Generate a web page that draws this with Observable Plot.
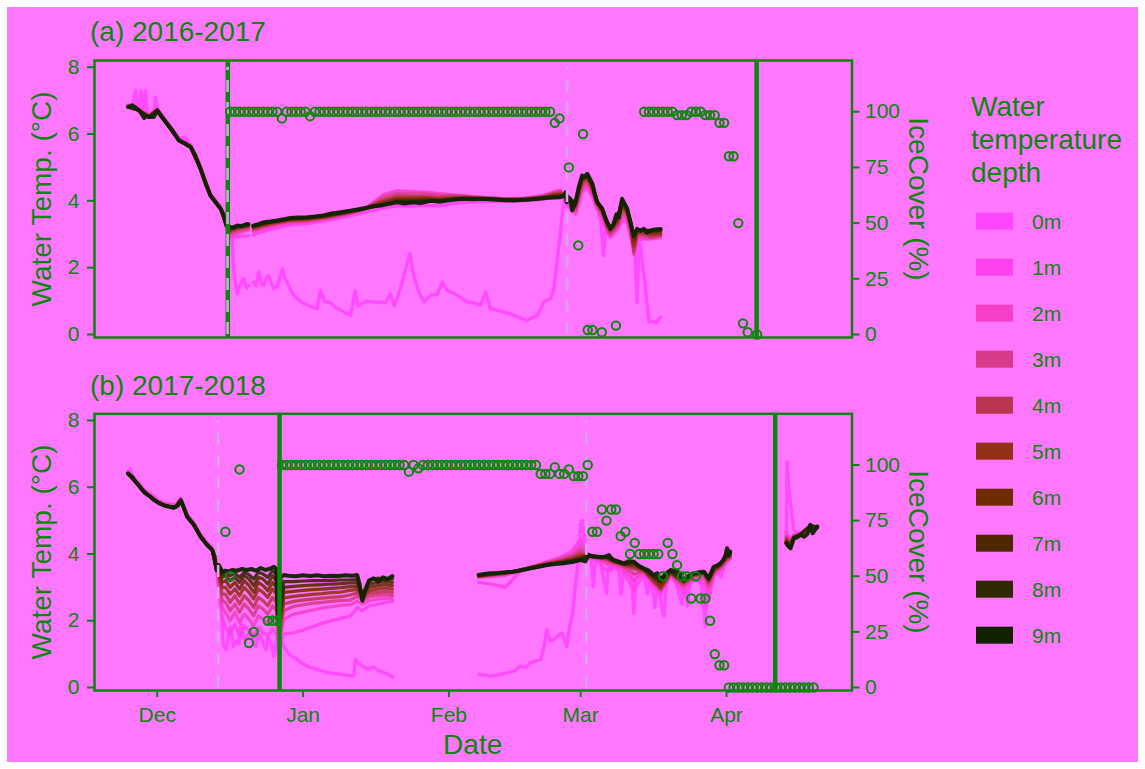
<!DOCTYPE html>
<html><head><meta charset="utf-8">
<script src="https://cdn.jsdelivr.net/npm/d3@7"></script>
<script src="https://cdn.jsdelivr.net/npm/@observablehq/plot@0.6"></script>
<style>
html,body{margin:0;padding:0;background:#ffffff;}
#page{position:absolute;left:0;top:0;width:1145px;height:769px;overflow:hidden;font-family:"Liberation Sans",Arial,sans-serif;}
#bgrect{position:absolute;left:7px;top:7px;width:1131px;height:755px;background:#ff77ff;}
#page svg{position:absolute;}
</style></head><body>
<div id="page"><div id="bgrect"></div></div>
<script>
// ---------------- DATA ----------------
// x values are days after 1 December (season reference); 2016-17 and 2017-18 share one season axis.
const depths = ["0m","1m","2m","3m","4m","5m","6m","7m","8m","9m"];
const depthColors = ["#ff46ff","#ff40ee","#f53fc8","#d83b8a","#b8364f","#933016","#702c00","#502800","#302800","#102200"];
const monthTicks = ["2017-12-01","2018-01-01","2018-02-01","2018-03-01","2018-04-01"];
const tempTicks = [0,2,4,6,8];
const iceTicks = [0,25,50,75,100];
const ICE_PER_DEGREE = 15; // secondary axis: IceCover (%) = 15 x axis units
const xDomainDays = [-13.33, 147.67];
const panelTitles = ["(a) 2016-2017","(b) 2017-2018"];

// ---- Panel (a) 2016-2017 ----
const a9m = [[-6.2,6.81],[-5.3,6.86],[-4.5,6.78],[-3.9,6.71],[-3.4,6.62],[-2.8,6.48],[-2.3,6.55],[-1.8,6.51],[-0.7,6.51],[0,6.71],
[0.7,6.56],[1.8,6.36],[3.2,6.11],[4.6,5.81],[6.0,5.71],[7.1,5.61],[8.1,5.36],[9.2,4.96],[10.3,4.51],[11.3,4.16],
[12.4,3.96],[13.5,3.76],[14.2,3.56],[14.7,3.26],[15.6,3.21],[16.3,3.20],[17.0,3.26],[18.0,3.24],[19.1,3.31],[19.4,3.30],
[19.9,null],[20.4,3.26],[21.5,3.30],[22.7,3.36],[24.0,3.38],[25.5,3.41],[27.0,3.45],[28.3,3.49],[30.0,3.50],[31.9,3.51],
[33.5,3.53],[35.4,3.56],[37.0,3.62],[39.0,3.66],[40.7,3.70],[42.5,3.74],[44.3,3.79],[46.0,3.84],[47.5,3.86],[49.2,3.91],
[51.0,3.96],[52.5,3.92],[54.5,3.96],[56.0,3.93],[58.1,4.00],[60.0,3.97],[61.6,4.01],[63.5,4.04],[65.2,4.06],[67.0,4.05],
[68.7,4.06],[70.5,4.05],[72.3,4.04],[74.0,4.02],[75.8,4.01],[77.5,4.03],[79.3,4.04],[81.0,4.06],[82.9,4.09],[84.5,4.10],
[85.7,4.11],[86.4,4.15],[86.8,4.26],[87.0,3.96],[87.4,4.10],[87.8,4.06],[88.2,3.71],[88.9,3.96],[89.6,4.41],[90.3,4.76],
[90.8,4.70],[91.4,4.81],[92.0,4.65],[92.5,4.51],[93.0,4.20],[93.5,3.96],[94.1,3.85],[94.6,3.76],[95.1,3.55],[95.6,3.36],
[96.3,3.16],[97.0,3.31],[97.6,3.60],[98.1,3.50],[98.8,4.06],[99.4,3.90],[99.9,3.76],[100.5,3.40],[101.0,3.10],[101.3,2.96],
[102.0,3.16],[102.7,3.10],[103.4,3.16],[104.1,3.05],[104.8,3.11],[105.8,3.14],[107.0,3.16]];

const a0m = [[-6.2,6.81],[-5.3,6.86],[-4.6,7.30],[-4.3,6.78],[-3.9,6.71],[-3.4,7.30],[-3.0,6.55],[-2.5,7.30],[-2.1,6.55],[-1.8,6.51],
[-0.7,6.51],[-0.4,7.10],[0,6.75],[0.7,6.56],[1.8,6.40],[3.2,6.15],[4.6,5.85],[6.0,5.90],[7.1,5.65],[8.1,5.40],
[9.2,5.00],[10.3,4.55],[11.3,4.20],[12.4,4.00],[13.5,3.80],[14.2,3.60],[14.7,3.30],[15.3,3.10],[15.9,2.96],[16.3,1.87],
[17.0,1.22],[17.7,1.50],[18.4,1.67],[19.0,1.40],[19.5,1.47],[19.9,null],[20.5,1.57],[21.0,1.45],[21.6,1.87],[22.2,1.50],
[22.7,1.47],[23.2,1.70],[23.7,1.77],[24.3,1.50],[24.8,1.37],[25.6,1.45],[26.6,1.97],[27.1,1.70],[27.6,1.57],[28.3,1.35],
[29.0,1.17],[30.0,1.05],[31.2,0.92],[32.5,0.85],[34.0,0.77],[34.7,1.32],[35.5,1.00],[36.8,0.95],[38.0,0.80],[39.7,0.67],
[41.1,0.57],[42.1,1.32],[42.6,0.85],[43.2,0.90],[44.5,1.00],[46.0,0.97],[47.5,0.97],[48.5,0.95],[49.6,1.22],[50.4,0.85],
[51.7,1.37],[52.8,1.97],[53.7,2.42],[54.5,1.77],[55.6,1.27],[56.7,0.97],[58.1,1.17],[59.5,1.20],[60.6,1.57],[61.6,1.32],
[62.7,1.25],[63.8,1.17],[65.0,1.05],[65.9,0.97],[67.3,0.95],[68.7,0.87],[69.8,1.27],[70.8,0.77],[72.3,0.72],[73.7,0.67],
[75.8,0.57],[77.2,0.50],[78.6,0.42],[79.7,0.50],[80.8,0.57],[82.2,0.97],[83.6,1.07],[84.3,1.37],[85.0,2.17],[85.7,3.06],
[86.2,3.76],[86.8,4.16],[87.4,4.05],[88.2,3.80],[88.9,3.90],[89.6,4.30],[90.3,4.70],[91.4,4.80],[92.5,4.45],[93.5,3.90],
[94.2,3.50],[94.9,2.36],[95.3,3.20],[95.6,3.30],[96.3,3.10],[97.0,3.25],[97.9,3.60],[98.8,3.95],[99.9,3.70],[100.6,3.30],
[101.0,2.76],[101.4,3.10],[102.0,0.97],[102.4,3.00],[103.1,2.17],[103.8,1.37],[104.5,0.37],[105.2,0.40],[106.0,0.35],[107.0,0.52]];

const aMidDays = [-6.2,-3.9,-1.8,0,1.8,4.6,7.1,9.2,11.3,13.5, 14.7,15.6,17.0,19.4,19.9,20.4,24,28,32,36, 40,44,48,51,54,57,60,63,66,70,
74,78,82,84.5,85.7,86.8,87.8,88.9,89.6,90.3, 91.4,92.5,93.5,94.6,95.6,96.3,97.0,97.9,98.8,99.9, 100.6,101.3,102.0,103.4,104.8,107.0];
const a1m = [6.88,6.78,6.58,6.78,6.42,5.88,5.68,5.02,4.22,3.82, 3.20,2.88,2.92,2.96,null,2.98,3.14,3.27,3.32,3.41, 3.52,3.65,3.78,3.85,3.84,3.86,3.85,3.92,3.96,3.98,
3.98,4.00,4.04,4.14,4.22,3.95,3.75,3.60,3.90,4.25, 4.40,4.10,3.75,3.45,3.05,2.90,3.00,3.15,3.40,3.35, 2.90,2.70,2.85,2.85,2.85,2.90];
const a2m = [6.85,6.75,6.55,6.75,6.40,5.85,5.65,5.00,4.20,3.80, 3.26,2.95,3.02,3.12,null,3.08,3.22,3.34,3.38,3.46, 3.57,3.74,4.18,4.30,4.28,4.26,4.22,4.18,4.14,4.10,
4.06,4.08,4.16,4.28,4.32,4.02,3.82,3.65,4.00,4.35, 4.48,4.18,3.80,3.52,3.10,2.95,3.05,3.20,3.50,3.45, 3.00,2.60,2.90,2.90,2.88,2.92];
const a3m = [6.83,6.73,6.53,6.73,6.38,5.83,5.63,4.98,4.18,3.78, 3.26,3.02,3.10,3.18,null,3.13,3.27,3.38,3.41,3.49, 3.60,3.76,4.10,4.22,4.20,4.20,4.16,4.16,4.13,4.09,
4.06,4.07,4.14,4.24,4.28,4.08,3.90,3.72,4.10,4.42, 4.55,4.25,3.86,3.60,3.18,3.00,3.10,3.28,3.62,3.52, 3.10,2.40,2.95,2.95,2.90,2.95];
const a4m = [6.81,6.71,6.51,6.71,6.36,5.81,5.61,4.96,4.16,3.76, 3.26,3.08,3.16,3.22,null,3.17,3.30,3.41,3.44,3.51, 3.62,3.76,4.02,4.14,4.13,4.13,4.10,4.12,4.11,4.08,
4.05,4.06,4.12,4.21,4.24,4.12,3.96,3.80,4.18,4.52, 4.62,4.34,3.92,3.66,3.26,3.06,3.16,3.35,3.75,3.60, 3.20,2.50,3.00,3.00,2.95,2.98];
const a5m = [6.81,6.71,6.51,6.71,6.36,5.81,5.61,4.96,4.16,3.76, 3.26,3.12,3.19,3.25,null,3.20,3.33,3.43,3.46,3.53, 3.64,3.76,3.97,4.08,4.08,4.09,4.06,4.09,4.09,4.07,
4.04,4.05,4.10,4.18,4.20,4.15,4.00,3.86,4.25,4.60, 4.68,4.40,3.96,3.70,3.32,3.12,3.22,3.42,3.85,3.66, 3.28,2.65,3.06,3.06,3.00,3.02];
const a6m = [6.81,6.71,6.51,6.71,6.36,5.81,5.61,4.96,4.16,3.76, 3.26,3.15,3.22,3.27,null,3.22,3.35,3.45,3.48,3.55, 3.65,3.76,3.93,4.04,4.04,4.05,4.03,4.07,4.08,4.06,
4.03,4.04,4.09,4.15,4.17,4.18,4.03,3.90,4.30,4.66, 4.72,4.45,3.98,3.72,3.36,3.16,3.26,3.48,3.92,3.70, 3.34,2.80,3.10,3.10,3.05,3.08];
const a7m = [6.81,6.71,6.51,6.71,6.36,5.81,5.61,4.96,4.16,3.76, 3.26,3.18,3.24,3.28,null,3.24,3.36,3.46,3.49,3.56, 3.66,3.76,3.90,4.00,4.00,4.02,4.01,4.05,4.07,4.05,
4.02,4.03,4.08,4.13,4.14,4.20,4.04,3.92,4.34,4.70, 4.75,4.48,3.98,3.74,3.38,3.18,3.28,3.52,3.98,3.72, 3.38,2.90,3.12,3.12,3.08,3.12];
const a8m = [6.81,6.71,6.51,6.71,6.36,5.81,5.61,4.96,4.16,3.76, 3.26,3.20,3.25,3.29,null,3.25,3.37,3.47,3.50,3.57, 3.67,3.77,3.88,3.98,3.97,3.99,3.99,4.04,4.06,4.05,
4.02,4.03,4.07,4.11,4.12,4.22,4.05,3.94,4.38,4.74, 4.78,4.50,3.98,3.75,3.38,3.18,3.30,3.55,4.02,3.75, 3.40,2.94,3.14,3.14,3.10,3.14];

// daily ice cover (%) at noon, first value on day 15 (16 Dec); null = no observation
const aIceStartDay = 15;
const aIce = [100,100,100,100,100,100,100,100,100,100,100,97,100,100,100,100,100,98,
100,100,100,100,100,100,100,100,100,100,100,100,100,100,100,100,100,100,100,100,100,100,100,100,100,100,100,100,100,100,100,100,100,
100,100,100,100,100,100,100,100,100,100,100,100,100,100,100,100,100,100,
95,97,null,75,null,40,90,2,2,null,1,null,null,4,null,null,null,null,null,
100,100,100,100,100,100,100,98.5,98.5,98.5,100,100,100,98.5,98.5,98.5,95,95,80,80,50,5,1,null,0];
const aGreenRules = [15.0, 127.4];
const aLavenderRules = [14.95, 87.1];

// ---- Panel (b) 2017-2018 ----
const b9m = [[-6.2,6.41],[-5.7,6.35],[-5.3,6.31],[-4.8,6.20],[-4.25,6.11],[-3.5,5.98],[-2.8,5.86],[-2.1,5.78],[-1.4,5.71],[-0.7,5.62],
[0,5.56],[0.7,5.50],[1.4,5.46],[2.1,5.43],[2.8,5.41],[3.4,5.38],[3.9,5.41],[4.4,5.45],[5.0,5.61],[5.5,5.45],
[6.4,5.11],[7.1,5.00],[7.8,4.87],[8.5,4.70],[9.2,4.52],[9.9,4.40],[10.6,4.27],[11.1,4.20],[11.7,4.12],[12.2,3.92],
[12.6,3.52],[13.1,3.67],[13.8,3.47],[14.5,3.50],[15.2,3.48],[16.0,3.52],[17.0,3.50],[18.0,3.55],[19.0,3.52],[20.0,3.55],
[21.0,3.50],[22.0,3.58],[23.0,3.52],[24.0,3.56],[24.8,3.62],[25.3,3.55],[25.6,2.20],[25.9,2.00],[26.2,3.30],[26.9,3.37],
[28.0,3.35],[29.5,3.33],[31.0,3.36],[32.5,3.34],[34.0,3.36],[35.5,3.33],[37.0,3.35],[38.5,3.34],[40.0,3.36],[41.5,3.35],
[42.5,3.37],[43.0,3.10],[43.6,2.60],[44.2,2.90],[45.0,3.20],[46.0,3.27],[47.0,3.18],[48.0,3.30],[49.0,3.25],[50.0,3.34],
[50.2,null],[68.3,3.37],[69.5,3.40],[70.8,3.42],[72.5,3.43],[74.0,3.45],[75.8,3.47],[77.5,3.52],[79.3,3.57],[81.0,3.62],
[82.8,3.67],[84.5,3.70],[86.4,3.72],[88.2,3.76],[90.0,3.82],[91.0,3.78],[91.7,3.97],[92.5,3.93],[93.5,3.92],[94.5,3.90],
[95.2,3.92],[96.0,3.97],[96.5,3.88],[97.0,3.82],[98.0,3.78],[99.2,3.72],[100.2,3.78],[101.3,3.77],[102.3,3.65],[103.4,3.57],
[104.5,3.50],[105.5,3.37],[106.3,3.42],[107.0,3.22],[108.0,3.40],[109.1,3.52],[110.5,3.47],[111.2,3.40],[111.9,3.22],[113.0,3.35],
[114.0,3.42],[115.0,3.45],[116.2,3.47],[117.2,3.27],[118.3,3.62],[119.0,3.65],[119.7,3.72],[120.3,3.80],[120.8,3.97],[121.1,4.17],
[121.5,3.95],[121.8,4.07],[122.0,null],[133.7,4.32],[134.0,4.25],[134.6,4.17],[135.3,4.47],[136.0,4.50],[136.7,4.57],[137.5,4.52],
[138.2,4.60],[138.8,4.87],[139.3,4.62],[139.8,4.72],[140.3,4.82]];

const b0m = [[-6.2,6.45],[-5.7,6.55],[-5.3,6.35],[-4.25,6.15],[-3.5,6.02],[-2.8,5.90],[-2.1,5.82],[-1.4,5.78],[-0.7,5.70],[0,5.62],
[1.4,5.52],[2.8,5.50],[3.4,5.45],[3.9,5.48],[5.0,5.65],[6.4,5.15],[7.8,4.90],[9.2,4.55],[10.6,4.30],[11.7,4.15],
[12.2,3.95],[12.6,3.55],[13.1,3.60],[13.5,2.72],[14.0,1.32],[14.6,1.13],[15.2,1.60],[15.6,1.83],[16.2,1.23],[16.8,1.40],
[17.3,1.30],[17.8,1.93],[18.3,1.50],[18.8,1.42],[19.4,1.60],[19.9,1.72],[20.5,1.30],[21.0,1.23],[21.5,1.60],[22.0,1.53],
[22.6,1.30],[23.1,1.13],[23.6,1.50],[24.2,1.32],[24.8,0.93],[25.3,1.40],[25.8,0.95],[26.3,1.40],[26.9,1.23],[27.5,1.10],
[28.3,0.95],[29.8,0.84],[31.0,0.70],[32.5,0.60],[34.0,0.54],[36.0,0.45],[39.0,0.39],[41.8,0.34],[42.1,0.84],[42.6,0.75],
[43.2,0.69],[44.0,0.60],[45.0,0.54],[46.0,0.62],[47.0,0.50],[48.0,0.45],[49.0,0.40],[50.0,0.32],[50.2,null],[68.3,0.39],
[69.5,0.38],[70.8,0.34],[72.5,0.38],[74.4,0.44],[76.0,0.50],[77.2,0.64],[78.3,0.60],[79.3,0.74],[80.5,0.80],[81.5,0.84],
[82.2,1.20],[82.8,1.73],[83.5,1.40],[84.2,1.43],[85.2,1.55],[86.0,1.63],[86.5,1.45],[87.1,1.23],[87.6,1.80],[88.2,2.13],
[88.7,2.80],[89.2,3.42],[89.6,4.00],[90.0,4.92],[90.4,5.01],[90.8,4.40],[91.2,3.95],[91.7,4.00],[92.2,3.90],[92.7,3.02],
[93.2,3.85],[94.0,3.90],[94.8,3.30],[95.5,2.83],[96.0,3.80],[96.5,3.50],[97.0,3.70],[98.0,3.60],[98.6,2.80],[99.2,3.60],
[100.0,3.70],[100.8,3.50],[101.3,2.23],[101.8,3.40],[102.5,3.50],[103.4,3.40],[104.2,2.80],[105.0,3.30],[105.8,2.40],[106.5,3.20],
[107.2,2.40],[107.7,2.13],[108.3,3.30],[109.1,3.50],[110.0,3.20],[110.8,2.90],[111.5,2.50],[112.0,3.20],[112.7,2.43],[113.3,3.30],
[114.5,3.40],[115.5,3.30],[116.0,2.60],[116.5,1.83],[117.0,3.20],[117.8,3.30],[118.5,3.50],[119.2,3.60],[119.8,3.30],[120.5,3.60],
[121.1,4.20],[121.8,4.10],[122.0,null],[133.7,4.50],[133.9,6.76],[134.2,6.00],[134.6,5.51],[135.3,4.72],[136.0,4.60],[136.7,4.65],
[137.5,4.60],[138.2,4.70],[138.8,4.90],[139.3,4.70],[139.8,4.75],[140.3,4.85]];

const bMidDays = [-6.2,-4.25,-2.8,-1.4,0,1.4,2.8,3.9,5.0,6.4,7.8,9.2,10.6,11.7,12.6,
13.1,13.8,14.5,15.5,16.5,17.5,18.5,19.5,20.5,21.5,22.5,23.5,24.5,25.3, 25.9,
26.9,29,31,33,35,37,39,41,42.5,43.6,45,47,48.5,50, 50.2,
68.3,71,74,77,80,83,86,88.2,90,91.7,93.5,
95.5,97,99.2,101.3,103.4,105.5,107,109.1,111.9,114,116.2,117.2,118.3,119.7,120.8,121.8, 122,
133.7,134.6,135.3,136.7,138.8,140.3];
const b1m = [6.48,6.18,5.93,5.78,5.63,5.53,5.48,5.48,5.68,5.18,4.94,4.59,4.34,4.19,3.58,
2.80,2.10,1.80,1.60,1.90,1.55,1.85,1.70,1.50,1.80,1.65,1.55,1.75,1.60, 1.20,
1.60,1.64,1.72,1.82,1.92,2.00,2.07,2.13,2.40,2.30,2.45,2.50,2.55,2.58, null,
3.15,3.10,3.00,3.45,3.62,3.78,3.92,4.10,4.45,3.88,3.80,
3.50,3.60,3.45,2.90,3.40,3.00,2.80,3.35,2.80,3.25,3.10,2.60,3.35,3.50,3.70,3.85, null,
4.65,4.45,4.58,4.62,4.80,4.78];
const b2m = [6.45,6.15,5.90,5.75,5.60,5.50,5.45,5.45,5.65,5.15,4.91,4.56,4.31,4.16,3.56,
3.10,2.40,2.25,2.00,2.25,1.95,2.20,2.05,1.85,2.15,2.05,1.90,2.15,2.00, 1.35,
2.05,2.20,2.26,2.32,2.38,2.42,2.46,2.48,2.58,2.50,2.60,2.65,2.68,2.65, null,
3.30,3.32,3.36,3.50,3.63,3.76,3.88,4.02,4.25,3.90,3.86,
3.70,3.68,3.55,3.20,3.45,3.10,2.88,3.38,2.95,3.30,3.25,2.90,3.40,3.55,3.75,3.88, null,
4.55,4.40,4.56,4.61,4.81,4.78];
const b3m = [6.41,6.11,5.86,5.71,5.56,5.46,5.41,5.41,5.61,5.11,4.87,4.52,4.27,4.12,3.52,
3.30,2.60,2.55,2.30,2.50,2.25,2.50,2.35,2.15,2.45,2.35,2.20,2.45,2.30, 1.50,
2.30,2.43,2.48,2.52,2.55,2.58,2.60,2.62,2.73,2.62,2.72,2.76,2.78,2.75, null,
3.32,3.36,3.40,3.52,3.63,3.74,3.84,3.95,4.12,3.92,3.88,
3.80,3.72,3.62,3.40,3.48,3.15,2.92,3.40,3.05,3.34,3.35,3.05,3.45,3.60,3.78,3.90, null,
4.50,4.36,4.54,4.60,4.82,4.78];
const b4m = [6.41,6.11,5.86,5.71,5.56,5.46,5.41,5.41,5.61,5.11,4.87,4.52,4.27,4.12,3.52,
3.40,2.80,2.80,2.55,2.75,2.50,2.75,2.60,2.40,2.70,2.60,2.45,2.70,2.55, 1.65,
2.50,2.58,2.62,2.65,2.68,2.70,2.72,2.77,2.83,2.70,2.82,2.85,2.88,2.85, null,
3.33,3.37,3.42,3.52,3.62,3.72,3.80,3.90,4.02,3.93,3.89,
3.85,3.76,3.66,3.55,3.50,3.18,2.95,3.42,3.12,3.36,3.40,3.15,3.48,3.63,3.82,3.93, null,
4.46,4.32,4.52,4.60,4.82,4.79];
const b5m = [6.41,6.11,5.86,5.71,5.56,5.46,5.41,5.41,5.61,5.11,4.87,4.52,4.27,4.12,3.52,
3.45,3.00,3.00,2.80,2.95,2.75,3.00,2.85,2.65,2.95,2.85,2.70,2.95,2.80, 1.75,
2.68,2.73,2.76,2.79,2.81,2.84,2.86,2.91,2.93,2.75,2.90,2.95,2.98,2.95, null,
3.34,3.38,3.43,3.51,3.61,3.70,3.78,3.86,3.95,3.94,3.90,
3.88,3.78,3.68,3.62,3.52,3.22,3.00,3.44,3.15,3.38,3.43,3.20,3.52,3.66,3.86,3.97, null,
4.42,4.28,4.50,4.59,4.83,4.79];
const b6m = [6.41,6.11,5.86,5.71,5.56,5.46,5.41,5.41,5.61,5.11,4.87,4.52,4.27,4.12,3.52,
3.50,3.15,3.20,3.00,3.15,2.95,3.20,3.05,2.85,3.15,3.05,2.90,3.15,3.00, 1.85,
2.85,2.88,2.91,2.93,2.95,2.97,2.99,3.02,3.03,2.78,3.00,3.05,3.08,3.05, null,
3.35,3.39,3.44,3.51,3.60,3.69,3.76,3.82,3.90,3.95,3.90,
3.90,3.79,3.69,3.68,3.54,3.28,3.08,3.46,3.18,3.39,3.44,3.22,3.55,3.68,3.90,4.00, null,
4.38,4.25,4.50,4.58,4.84,4.80];
const b7m = [6.41,6.11,5.86,5.71,5.56,5.46,5.41,5.41,5.61,5.11,4.87,4.52,4.27,4.12,3.52,
3.55,3.30,3.35,3.20,3.30,3.15,3.35,3.25,3.05,3.30,3.25,3.10,3.35,3.20, 1.90,
3.00,3.03,3.05,3.07,3.08,3.10,3.11,3.13,3.13,2.80,3.10,3.15,3.18,3.15, null,
3.35,3.40,3.44,3.50,3.59,3.68,3.74,3.80,3.86,3.95,3.91,
3.91,3.80,3.70,3.72,3.55,3.32,3.15,3.48,3.20,3.40,3.45,3.25,3.58,3.70,3.93,4.03, null,
4.36,4.22,4.49,4.58,4.85,4.80];
const b8m = [6.41,6.11,5.86,5.71,5.56,5.46,5.41,5.41,5.61,5.11,4.87,4.52,4.27,4.12,3.52,
3.60,3.40,3.45,3.35,3.42,3.30,3.45,3.38,3.25,3.45,3.40,3.30,3.50,3.40, 1.95,
3.17,3.17,3.19,3.20,3.20,3.21,3.22,3.22,3.23,2.75,3.22,3.28,3.22,3.25, null,
3.36,3.41,3.45,3.50,3.58,3.67,3.73,3.78,3.84,3.96,3.92,
3.92,3.81,3.71,3.75,3.56,3.35,3.20,3.50,3.22,3.41,3.46,3.27,3.60,3.71,3.95,4.05, null,
4.34,4.20,4.48,4.57,4.86,4.81];

// daily ice cover (%) at noon, first value on day 14 (15 Dec)
const bIceStartDay = 14;
const bIce = [70,50,null,98,null,20,25,null,null,30,30,30,
100,100,100,100,100,100,100,100,100,100,100,100,100,100,100,100,100,100,100,100,100,100,100,100,100,100,100,
97,100,98.5,
100,100,100,100,100,100,100,100,100,100,100,100,100,100,100,100,100,100,100,100,100,100,100,100,100,
96,96,96,99,96,96,98,95,95,95,100,
70,70,80,75,80,80,68,70,60,65,60,60,60,60,60,50,65,60,55,50,50,40,50,40,40,30,15,10,10,
0,0,0,0,0,0,0,0,0,0,0,0,0,0,0,0,0,0,0];
const bGreenRules = [26.0, 131.35];
const bLavenderRules = [12.95, 91.2];

// ---------------- DRAWING ----------------
const green = "#0a870a";
const lavender = "#d9a3ee";
const font = "Liberation Sans, Arial, Helvetica, sans-serif";
const season0 = Date.UTC(2017, 11, 1);
const toDate = d => new Date(season0 + d * 864e5);
const num = v => (v == null ? NaN : v);

function makePanel(cfg) {
  const marks = [];
  const lineStyle = {x: "date", y: "t", strokeWidth: 3.2, strokeOpacity: 0.88, strokeLinejoin: "round"};
  marks.push(Plot.line(cfg.s0.map(([d, t]) => ({date: toDate(d), t: num(t)})), {...lineStyle, stroke: depthColors[0], strokeWidth: 3.4}));
  cfg.mids.forEach((vals, k) => {
    const data = cfg.midDays.map((d, i) => ({date: toDate(d), t: num(vals[i])}));
    marks.push(Plot.line(data, {...lineStyle, stroke: depthColors[k + 1]}));
  });
  marks.push(Plot.line(cfg.s9.map(([d, t]) => ({date: toDate(d), t: num(t)})), {...lineStyle, stroke: depthColors[9], strokeWidth: 4, strokeOpacity: 0.95}));
  marks.push(Plot.ruleX(cfg.green.map(toDate), {stroke: green, strokeWidth: 4.5}));
  marks.push(Plot.ruleX(cfg.lav.map(toDate), {y1: 0, y2: 8, stroke: lavender, strokeWidth: 2.6, strokeDasharray: "12,10"}));
  const iceData = cfg.ice.map((v, i) => ({date: toDate(cfg.iceStart + i + 0.5), v})).filter(o => o.v != null);
  marks.push(Plot.dot(iceData, {x: "date", y: o => o.v / ICE_PER_DEGREE, r: 4.2, stroke: green, strokeWidth: 2, fill: "none"}));
  marks.push(Plot.frame({stroke: green, strokeWidth: 2.5}));
  marks.push(Plot.axisY(tempTicks, {anchor: "left", tickSize: 7, tickPadding: 8, fontSize: 21, strokeWidth: 2, label: null}));
  marks.push(Plot.axisY(iceTicks.map(v => v / ICE_PER_DEGREE), {anchor: "right", tickSize: 7, tickPadding: 6, fontSize: 21, strokeWidth: 2, label: null,
    tickFormat: d => String(Math.round(d * ICE_PER_DEGREE))}));
  if (cfg.showX) {
    marks.push(Plot.axisX(monthTicks.map(s => new Date(s)), {anchor: "bottom", tickSize: 7, tickPadding: 10, fontSize: 21, strokeWidth: 2, label: null,
      tickFormat: d3.utcFormat("%b")}));
  }
  const svg = Plot.plot({
    width: 960, height: cfg.height,
    marginLeft: 94, marginRight: 108.5, marginTop: cfg.marginTop, marginBottom: cfg.marginBottom,
    style: {background: "transparent", color: green, fontFamily: font, overflow: "visible"},
    x: {type: "utc", domain: xDomainDays.map(toDate), axis: null, label: null},
    y: {domain: [-0.09, 8.2], axis: null, label: null},
    marks
  });
  svg.style.left = "0px";
  svg.style.top = cfg.top + "px";
  document.getElementById("page").appendChild(svg);
}

makePanel({s0: a0m, s9: a9m, midDays: aMidDays, mids: [a1m,a2m,a3m,a4m,a5m,a6m,a7m,a8m],
  ice: aIce, iceStart: aIceStartDay, green: aGreenRules, lav: aLavenderRules, showX: false,
  top: 0, height: 360, marginTop: 60, marginBottom: 23});
makePanel({s0: b0m, s9: b9m, midDays: bMidDays, mids: [b1m,b2m,b3m,b4m,b5m,b6m,b7m,b8m],
  ice: bIce, iceStart: bIceStartDay, green: bGreenRules, lav: bLavenderRules, showX: true,
  top: 360, height: 409, marginTop: 53.3, marginBottom: 79});

// overlay text: titles, axis titles, legend
const ov = d3.select("#page").append("svg").attr("width", 1145).attr("height", 769)
  .style("left", "0px").style("top", "0px").style("font-family", font).attr("fill", green);
ov.append("text").attr("x", 90).attr("y", 41).attr("font-size", 28).text(panelTitles[0]);
ov.append("text").attr("x", 90).attr("y", 394.5).attr("font-size", 28).text(panelTitles[1]);
[199, 552].forEach(cy => {
  ov.append("text").attr("transform", `translate(50.5,${cy}) rotate(-90)`).attr("text-anchor", "middle").attr("font-size", 28).text("Water Temp. (°C)");
  ov.append("text").attr("transform", `translate(909,${cy}) rotate(90)`).attr("text-anchor", "middle").attr("font-size", 28).text("IceCover (%)");
});
ov.append("text").attr("x", 472.7).attr("y", 754).attr("text-anchor", "middle").attr("font-size", 28).text("Date");
["Water", "temperature", "depth"].forEach((s, i) => {
  ov.append("text").attr("x", 971).attr("y", 116 + 33 * i).attr("font-size", 28).text(s);
});
depths.forEach((lab, i) => {
  const top = 212.7 + 46 * i;
  ov.append("rect").attr("x", 976).attr("y", top).attr("width", 37).attr("height", 17).attr("fill", depthColors[i]);
  ov.append("text").attr("x", 1032).attr("y", top + 16.6).attr("font-size", 21).text(lab);
});
</script>
</body></html>
